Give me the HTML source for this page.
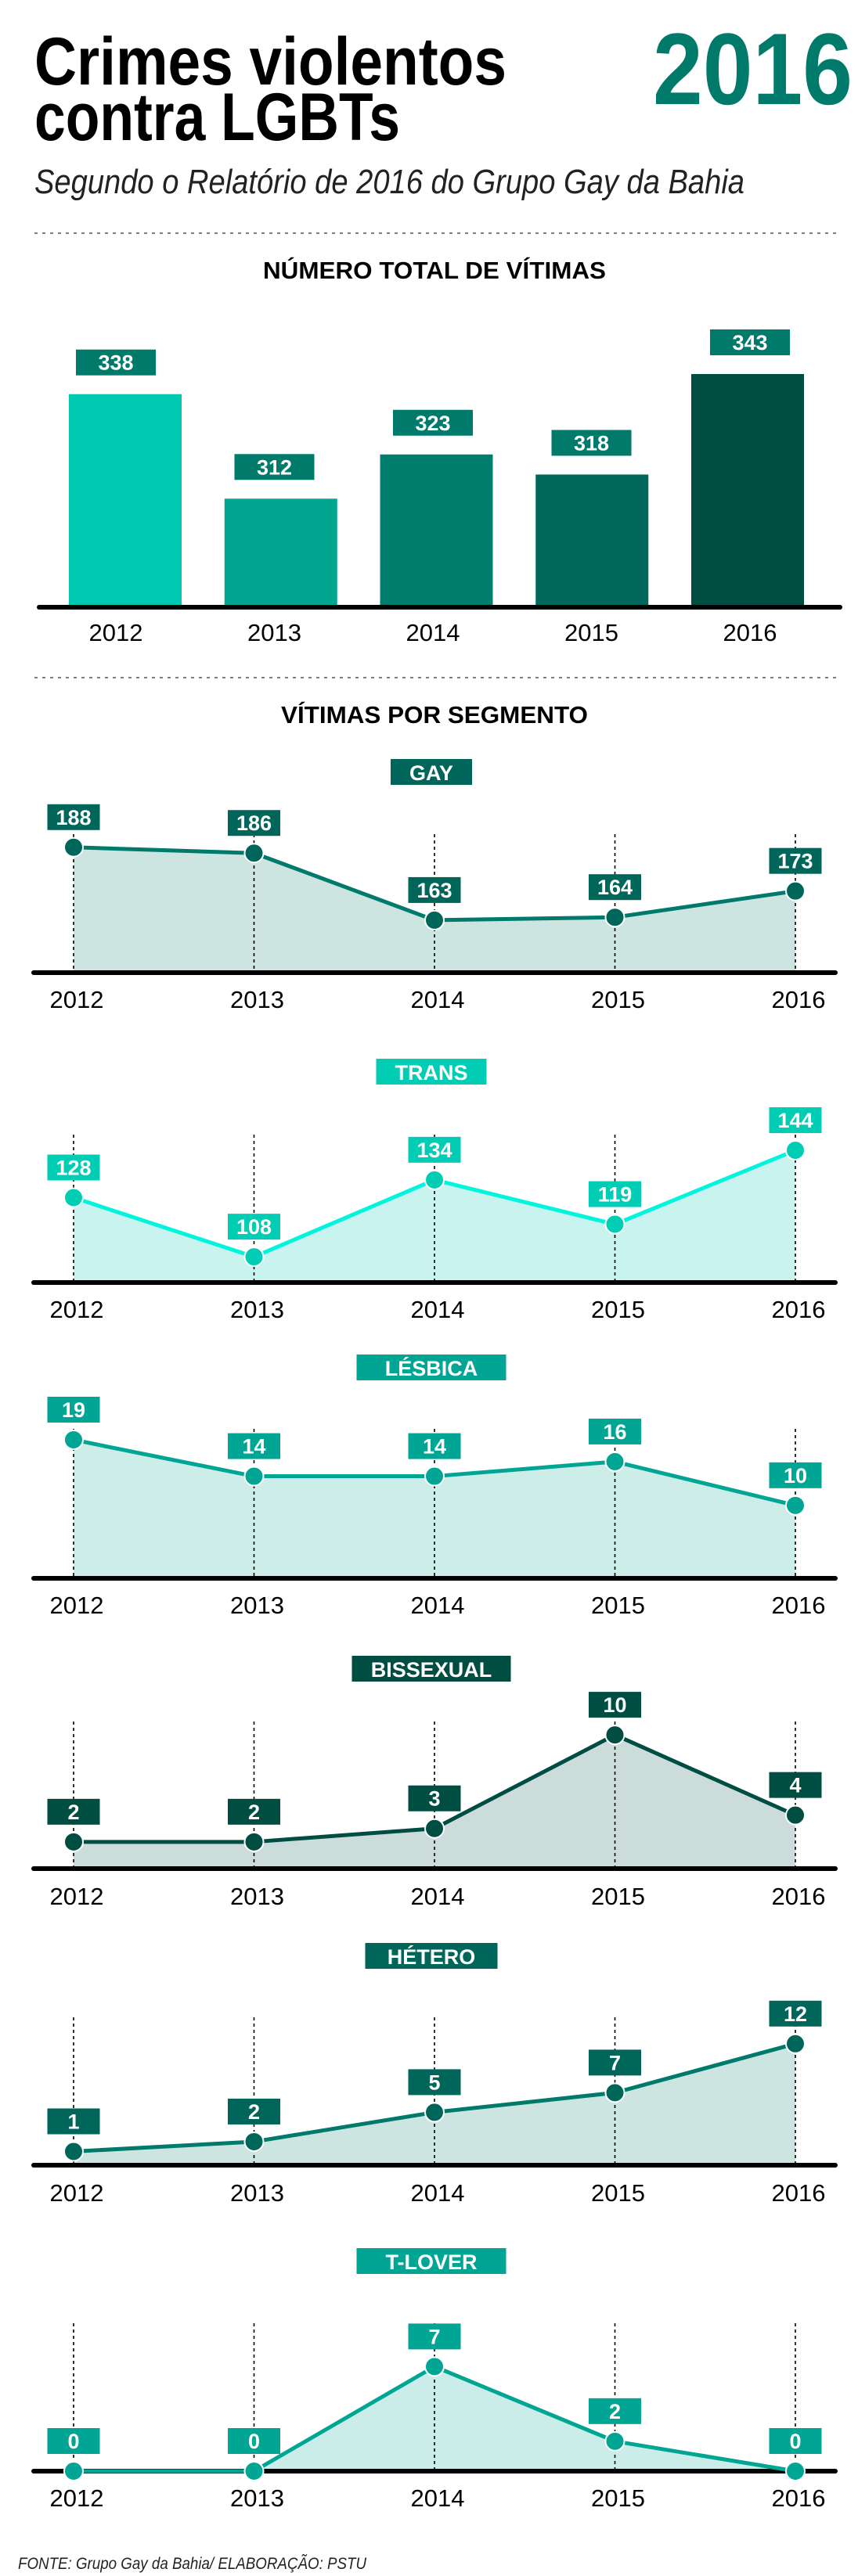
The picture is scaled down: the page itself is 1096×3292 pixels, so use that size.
<!DOCTYPE html>
<html><head><meta charset="utf-8"><title>Crimes violentos contra LGBTs</title>
<style>
html,body{margin:0;padding:0;background:#fff;}
svg{display:block;font-family:"Liberation Sans",sans-serif;}
</style></head>
<body>
<svg id="chart" width="1096" height="3292" viewBox="0 0 1096 3292" xmlns="http://www.w3.org/2000/svg">
<rect x="0" y="0" width="1096" height="3292" fill="#fff"/>
<text x="44" y="108" font-size="86" font-weight="bold" fill="#000" textLength="603" lengthAdjust="spacingAndGlyphs">Crimes violentos</text>
<text x="44" y="179" font-size="86" font-weight="bold" fill="#000" textLength="467" lengthAdjust="spacingAndGlyphs">contra LGBTs</text>
<text x="834" y="133" font-size="130" font-weight="bold" fill="#007A6A" textLength="255" lengthAdjust="spacingAndGlyphs">2016</text>
<text x="44" y="247" font-size="44" font-style="italic" fill="#222" textLength="907" lengthAdjust="spacingAndGlyphs">Segundo o Relatório de 2016 do Grupo Gay da Bahia</text>
<line x1="44" y1="298" x2="1068" y2="298" stroke="#555" stroke-width="1.5" stroke-dasharray="4 6"/>
<text x="336" y="356" font-size="31" font-weight="bold" fill="#000" textLength="438" lengthAdjust="spacingAndGlyphs">NÚMERO TOTAL DE VÍTIMAS</text>
<g id="bars"></g>
<line x1="44" y1="866" x2="1068" y2="866" stroke="#555" stroke-width="1.5" stroke-dasharray="4 6"/>
<text x="359" y="924" font-size="31" font-weight="bold" fill="#000" textLength="392" lengthAdjust="spacingAndGlyphs">VÍTIMAS POR SEGMENTO</text>
<g id="segments"></g>
<text x="23" y="3283" font-size="21" font-style="italic" fill="#222" textLength="445" lengthAdjust="spacingAndGlyphs">FONTE: Grupo Gay da Bahia/ ELABORAÇÃO: PSTU</text>
</svg>
<script>
const years = ["2012", "2013", "2014", "2015", "2016"];
const totalValues = [338, 312, 323, 318, 343];
const gayValues = [188, 186, 163, 164, 173];
const transValues = [128, 108, 134, 119, 144];
const lesbicaValues = [19, 14, 14, 16, 10];
const bissexualValues = [2, 2, 3, 10, 4];
const heteroValues = [1, 2, 5, 7, 12];
const tloverValues = [0, 0, 7, 2, 0];

const NS = "http://www.w3.org/2000/svg";
function mk(tag, attrs, parent) {
  const e = document.createElementNS(NS, tag);
  for (const k in attrs) e.setAttribute(k, attrs[k]);
  parent.appendChild(e);
  return e;
}

// ---- Bar chart ----
const barsG = document.getElementById('bars');
const barColors = ["#00C9B1", "#00A690", "#007D6C", "#00675A", "#004D42"];
const barY0 = 776, barY1 = 478, barMin = 285, barMax = 343;
function barY(v) { return barY0 - (v - barMin) / (barMax - barMin) * (barY0 - barY1); }
function barLeft(i) { return 88 + i * 198.75; }
function barLabelX(i) { return 148 + i * 202.5; }
totalValues.forEach((v, i) => {
  const y = barY(v);
  const r = mk('rect', {x: barLeft(i), y: y, width: 144, height: barY0 - y, fill: barColors[i]}, barsG);
  
  
  const cx = barLabelX(i);
  const b = mk('rect', {x: cx - 51, y: y - 57, width: 102, height: 33, fill: "#007A6A"}, barsG);
  
  
  const t = mk('text', {x: cx, y: y - 31, 'font-size': 27, 'font-weight': 'bold', fill: '#fff', 'text-anchor': 'middle'}, barsG);
  t.textContent = String(v);
  
  
  const yl = mk('text', {x: cx, y: 819, 'font-size': 31, fill: '#000', 'text-anchor': 'middle'}, barsG);
  yl.textContent = years[i];
  
  
});
const bAxis = mk('rect', {x: 47, y: 773, width: 1029, height: 6, rx: 3, fill: '#000'}, barsG);



// ---- Segment line charts ----
const segG = document.getElementById('segments');
function px(i) { return 94 + i * 230.5; }
function drawSegment(key, title, values, cfg) {
  const g = mk('g', {}, segG);
  
  
  const sy = v => cfg.axisY - (v - cfg.min) / (cfg.max - cfg.min) * (cfg.axisY - cfg.topY);
  // title box
  const tb = mk('rect', {x: 551 - cfg.titleW / 2, y: cfg.titleY, width: cfg.titleW, height: 33, fill: cfg.box}, g);
  
  
  const tt = mk('text', {x: 551, y: cfg.titleY + 27, 'font-size': 27, 'font-weight': 'bold', fill: '#fff', 'text-anchor': 'middle'}, g);
  tt.textContent = title;
  
  
  // area
  let pts = values.map((v, i) => px(i) + ',' + sy(v)).join(' ');
  const area = mk('polygon', {points: pts + ' ' + px(values.length - 1) + ',' + cfg.axisY + ' ' + px(0) + ',' + cfg.axisY, fill: cfg.fill}, g);
  
  
  // grid lines
  values.forEach((v, i) => {
    const gl = mk('line', {x1: px(i), y1: cfg.topY, x2: px(i), y2: cfg.axisY, stroke: '#000', 'stroke-width': 1.6, 'stroke-dasharray': '4 4'}, g);
    
    
  });
  const ax = mk('rect', {x: 40, y: cfg.axisY - 3, width: 1030, height: 6, rx: 3, fill: '#000'}, g);
  
  
  const ln = mk('polyline', {points: pts, fill: 'none', stroke: cfg.line, 'stroke-width': 5, 'stroke-linejoin': 'round'}, g);
  
  
  values.forEach((v, i) => {
    const y = sy(v);
    const d = mk('circle', {cx: px(i), cy: y, r: 12, fill: cfg.dot, stroke: '#fff', 'stroke-width': 2}, g);
    
    
    const lb = mk('rect', {x: px(i) - 33.5, y: y - 55, width: 67, height: 33, fill: cfg.box}, g);
    
    
    const lt = mk('text', {x: px(i), y: y - 29, 'font-size': 27, 'font-weight': 'bold', fill: '#fff', 'text-anchor': 'middle'}, g);
    lt.textContent = String(v);
    
    
    const yl = mk('text', {x: px(i) + 4, y: cfg.yearY, 'font-size': 31, fill: '#000', 'text-anchor': 'middle'}, g);
    yl.textContent = years[i];
    
    
  });
}
drawSegment('gay', 'GAY', gayValues, {titleY: 970, titleW: 104, topY: 1066, axisY: 1243, min: 145, max: 192.5, yearY: 1288, box: '#00665A', line: '#007A6A', dot: '#00665A', fill: '#CDE5E1'});
drawSegment('trans', 'TRANS', transValues, {titleY: 1353, titleW: 141, topY: 1450, axisY: 1639, min: 99.3, max: 149.3, yearY: 1684, box: '#00CDB4', line: '#00F5DC', dot: '#00CDB4', fill: '#C8F3EE'});
drawSegment('lesbica', 'LÉSBICA', lesbicaValues, {titleY: 1731, titleW: 191, topY: 1826, axisY: 2017, min: 0, max: 20.5, yearY: 2062, box: '#00A693', line: '#00A693', dot: '#00A693', fill: '#CDEDE9'});
drawSegment('bissexual', 'BISSEXUAL', bissexualValues, {titleY: 2116, titleW: 203, topY: 2200, axisY: 2388, min: 0, max: 11, yearY: 2434, box: '#004D42', line: '#004D42', dot: '#004D42', fill: '#CCDCDA'});
drawSegment('hetero', 'HÉTERO', heteroValues, {titleY: 2483, titleW: 169, topY: 2578, axisY: 2767, min: -0.4, max: 14.7, yearY: 2813, box: '#00665A', line: '#007A6A', dot: '#00665A', fill: '#CDE5E1'});
drawSegment('tlover', 'T-LOVER', tloverValues, {titleY: 2873, titleW: 191, topY: 2969, axisY: 3158, min: 0, max: 9.9, yearY: 3203, box: '#00A693', line: '#00A693', dot: '#00A693', fill: '#CBEDE9'});
</script>
</body></html>
